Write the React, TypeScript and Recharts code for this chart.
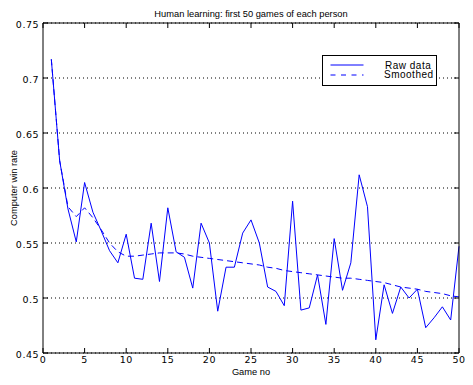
import React from 'react';
import { LineChart, Line, XAxis, YAxis, CartesianGrid, Legend } from 'recharts';

const games = [1,2,3,4,5,6,7,8,9,10,11,12,13,14,15,16,17,18,19,20,21,22,23,24,25,26,27,28,29,30,31,32,33,34,35,36,37,38,39,40,41,42,43,44,45,46,47,48,49,50];

const rawData = [
  0.717, 0.625, 0.581, 0.551, 0.605, 0.578, 0.561, 0.543, 0.532, 0.558,
  0.518, 0.517, 0.568, 0.515, 0.582, 0.542, 0.537, 0.509, 0.568, 0.550,
  0.488, 0.528, 0.528, 0.559, 0.571, 0.550, 0.510, 0.506, 0.493, 0.588,
  0.489, 0.491, 0.521, 0.476, 0.554, 0.507, 0.532, 0.612, 0.583, 0.462,
  0.512, 0.486, 0.510, 0.500, 0.508, 0.473, 0.482, 0.492, 0.480, 0.547,
];

const smoothed = [
  0.717, 0.625, 0.583, 0.574, 0.582, 0.573, 0.562, 0.550, 0.542, 0.538,
  0.538, 0.539, 0.540, 0.541, 0.541, 0.541, 0.540, 0.538, 0.537, 0.536,
  0.535, 0.534, 0.533, 0.532, 0.531, 0.530, 0.528, 0.527, 0.525, 0.524,
  0.523, 0.522, 0.521, 0.520, 0.519, 0.518, 0.518, 0.517, 0.516, 0.515,
  0.514, 0.512, 0.510, 0.509, 0.508, 0.506, 0.505, 0.504, 0.502, 0.501,
];

const xTicks = [0, 5, 10, 15, 20, 25, 30, 35, 40, 45, 50];
const yTicks = [0.45, 0.5, 0.55, 0.6, 0.65, 0.7, 0.75];

const seriesNames = ['Raw data', 'Smoothed'];
const titleText = 'Human learning: first 50 games of each person';
const xLabel = 'Game no';
const yLabel = 'Computer win rate';

const data = games.map((g, i) => ({ game: g, raw: rawData[i], smooth: smoothed[i] }));

const BLUE = '#0000ff';
const labelFont = '"Liberation Sans", Arial, sans-serif';
const tickFont = '"DejaVu Sans", sans-serif';

const renderLegend = () => (
  <svg width={116} height={32} style={{ display: 'block' }}>
    <rect x={0.5} y={0.5} width={114} height={30} fill="#fff" stroke="#000" strokeWidth={1} />
    <line x1={8.5} x2={41.5} y1={10} y2={10} stroke={BLUE} strokeWidth={1} />
    <line x1={8.5} x2={41.5} y1={20} y2={20} stroke={BLUE} strokeWidth={1} strokeDasharray="5 5.5" />
    <text x={63} y={13.5} fontSize={10} fontFamily={labelFont} letterSpacing={0.5} fill="#000">{seriesNames[0]}</text>
    <text x={62} y={23} fontSize={10} fontFamily={labelFont} letterSpacing={0.5} fill="#000">{seriesNames[1]}</text>
  </svg>
);

const emptyTick = () => <g />;

export default function App() {
  return (
    <div style={{ position: 'absolute', left: 0, top: 0, width: 473, height: 385, background: '#fff' }}>
      <LineChart width={473} height={385} data={data} margin={{ top: 22, right: 13, bottom: 2, left: 0 }}>
        <CartesianGrid vertical={false} stroke="#000" strokeDasharray="1 3" yAxisId="main" xAxisId="main" />
        <XAxis
          xAxisId="main"
          dataKey="game"
          type="number"
          domain={[0, 50]}
          ticks={xTicks}
          height={30}
          axisLine={{ stroke: '#000' }}
          tickLine={{ stroke: '#000' }}
          tickSize={-5}
          tickMargin={8}
          tick={{ fontSize: 9.5, fill: '#000', fontFamily: tickFont, letterSpacing: 0.5 }}
          label={{ value: xLabel, position: 'insideBottom', offset: 8, fontSize: 9.3, fill: '#000', fontFamily: labelFont }}
        />
        <XAxis
          xAxisId="top"
          orientation="top"
          dataKey="game"
          type="number"
          domain={[0, 50]}
          ticks={xTicks}
          height={1}
          axisLine={{ stroke: '#000' }}
          tickLine={{ stroke: '#000' }}
          tickSize={-5}
          tick={emptyTick}
          label={{ value: titleText, position: 'top', offset: 5, fontSize: 9.3, fill: '#000', fontFamily: labelFont }}
        />
        <YAxis
          yAxisId="main"
          type="number"
          domain={[0.45, 0.75]}
          ticks={yTicks}
          width={43}
          axisLine={{ stroke: '#000' }}
          tickLine={{ stroke: '#000' }}
          tickSize={-5}
          tickMargin={9}
          tick={{ fontSize: 9.5, fill: '#000', fontFamily: tickFont, letterSpacing: 0.5, dy: 2 }}
          label={{ value: yLabel, angle: -90, position: 'insideLeft', offset: 13.5, fontSize: 9.3, fill: '#000', fontFamily: labelFont, style: { textAnchor: 'middle' } }}
        />
        <YAxis
          yAxisId="right"
          orientation="right"
          type="number"
          domain={[0.45, 0.75]}
          ticks={yTicks}
          width={1}
          axisLine={{ stroke: '#000' }}
          tickLine={{ stroke: '#000' }}
          tickSize={-5}
          tick={emptyTick}
        />
        <Line xAxisId="top" yAxisId="right" type="linear" dataKey="raw" stroke="none" strokeWidth={0} dot={false} activeDot={false} legendType="none" isAnimationActive={false} />
        <Line xAxisId="main" yAxisId="main" type="linear" dataKey="raw" name={seriesNames[0]} stroke={BLUE} strokeWidth={1} dot={false} isAnimationActive={false} />
        <Line xAxisId="main" yAxisId="main" type="linear" dataKey="smooth" name={seriesNames[1]} stroke={BLUE} strokeWidth={1} strokeDasharray="6 4" dot={false} isAnimationActive={false} />
        <Legend
          layout="vertical"
          align="center"
          verticalAlign="middle"
          content={renderLegend}
          wrapperStyle={{ position: 'absolute', left: 322, top: 55, width: 116, height: 32 }}
        />
      </LineChart>
    </div>
  );
}
